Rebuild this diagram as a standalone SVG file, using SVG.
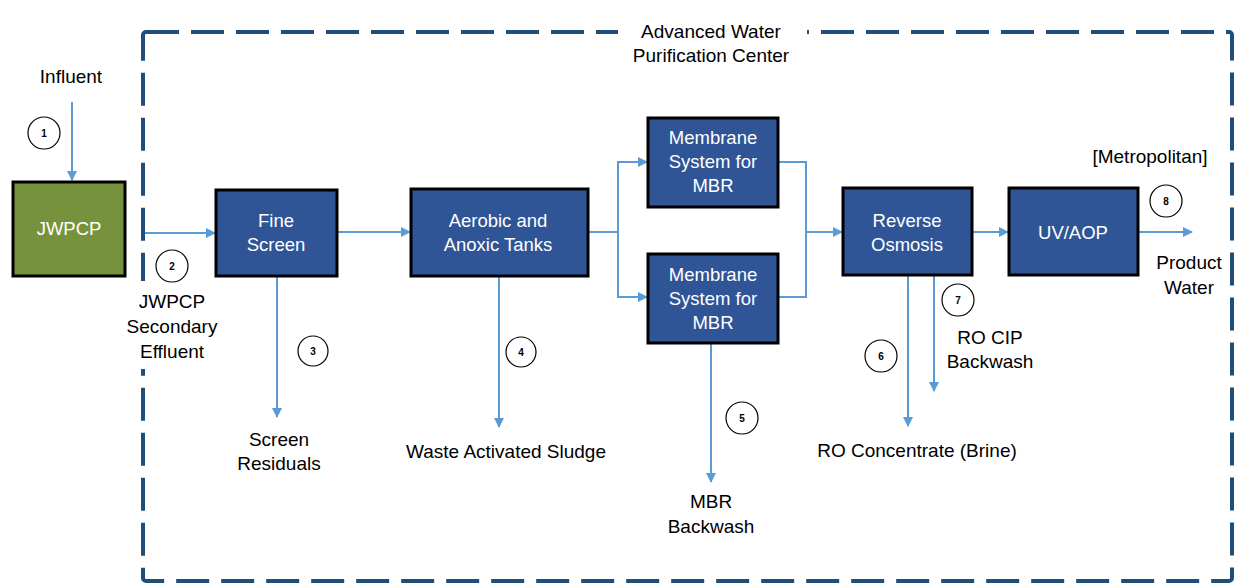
<svg xmlns="http://www.w3.org/2000/svg" width="1237" height="584" viewBox="0 0 1237 584">
<style>
.box{fill:#2F5597;stroke:#000;stroke-width:3}
.bt{fill:#fff;font-family:"Liberation Sans",Arial,sans-serif;font-size:18.5px;text-anchor:middle}
.lb{fill:#000;font-family:"Liberation Sans",Arial,sans-serif;font-size:19px;text-anchor:middle}
.cn{fill:#000;font-family:"Liberation Sans",Arial,sans-serif;font-size:10px;font-weight:bold;text-anchor:middle}
.cc{fill:#fff;stroke:#000;stroke-width:1.2}
.ln{fill:none;stroke:#5B9BD5;stroke-width:2}
.ar{fill:none;stroke:#5B9BD5;stroke-width:2;marker-end:url(#ah)}
</style>
<defs>
<marker id="ah" viewBox="0 0 10 10" refX="9" refY="5" markerWidth="5" markerHeight="5" orient="auto" markerUnits="strokeWidth">
<path d="M0,0 L10,5 L0,10 z" fill="#5B9BD5"/>
</marker>
</defs>
<rect width="1237" height="584" fill="#fff"/>
<g id="boundary">
<rect x="143" y="32" width="1089" height="549" rx="3" fill="none" stroke="#1F4E79" stroke-width="4" stroke-dasharray="33 12"/>
<rect x="618" y="22" width="189" height="20" fill="#fff"/>
<rect x="135" y="281" width="16" height="88" fill="#fff"/>
<text class="lb" x="711" y="38">Advanced Water</text>
<text class="lb" x="711" y="62">Purification Center</text>
</g>
<g id="connectors">
<line class="ar" x1="72" y1="102" x2="72" y2="180"/>
<line class="ar" x1="145" y1="233" x2="215" y2="233"/>
<line class="ar" x1="337" y1="232" x2="410" y2="232"/>
<polyline class="ln" points="588,232 618,232"/>
<polyline class="ar" points="618,232 618,162 647,162"/>
<polyline class="ar" points="618,232 618,297 647,297"/>
<polyline class="ln" points="778,162 806,162 806,297 778,297"/>
<line class="ar" x1="806" y1="232" x2="842" y2="232"/>
<line class="ar" x1="972" y1="232" x2="1008" y2="232"/>
<line class="ar" x1="1138" y1="232" x2="1192" y2="232"/>
<line class="ar" x1="277" y1="276" x2="277" y2="417"/>
<line class="ar" x1="499" y1="276" x2="499" y2="427"/>
<line class="ar" x1="711" y1="343" x2="711" y2="482"/>
<line class="ar" x1="908" y1="275" x2="908" y2="426"/>
<line class="ar" x1="934" y1="275" x2="934" y2="391"/>
</g>
<g id="jwpcp">
<rect x="13" y="182" width="112" height="94" fill="#76923C" stroke="#000" stroke-width="3"/>
<text class="bt" x="69" y="235">JWPCP</text>
</g>
<g id="fine-screen">
<rect class="box" x="216" y="190" width="121" height="86"/>
<text class="bt" x="276" y="227">Fine</text>
<text class="bt" x="276" y="251">Screen</text>
</g>
<g id="aerobic">
<rect class="box" x="411" y="189" width="177" height="87"/>
<text class="bt" x="498" y="227">Aerobic and</text>
<text class="bt" x="498" y="251">Anoxic Tanks</text>
</g>
<g id="mbr-top">
<rect class="box" x="648" y="118" width="130" height="89"/>
<text class="bt" x="713" y="144">Membrane</text>
<text class="bt" x="713" y="168">System for</text>
<text class="bt" x="713" y="192">MBR</text>
</g>
<g id="mbr-bottom">
<rect class="box" x="648" y="254" width="130" height="89"/>
<text class="bt" x="713" y="281">Membrane</text>
<text class="bt" x="713" y="305">System for</text>
<text class="bt" x="713" y="329">MBR</text>
</g>
<g id="ro">
<rect class="box" x="843" y="188" width="129" height="87"/>
<text class="bt" x="907" y="227">Reverse</text>
<text class="bt" x="907" y="251">Osmosis</text>
</g>
<g id="uvaop">
<rect class="box" x="1009" y="188" width="129" height="87"/>
<text class="bt" x="1073" y="239">UV/AOP</text>
</g>
<g id="labels">
<text class="lb" x="71" y="83">Influent</text>
<text class="lb" x="172" y="308">JWPCP</text>
<text class="lb" x="172" y="333">Secondary</text>
<text class="lb" x="172" y="358">Effluent</text>
<text class="lb" x="279" y="446">Screen</text>
<text class="lb" x="279" y="470">Residuals</text>
<text class="lb" x="506" y="458">Waste Activated Sludge</text>
<text class="lb" x="711" y="508">MBR</text>
<text class="lb" x="711" y="533">Backwash</text>
<text class="lb" x="917" y="457">RO Concentrate (Brine)</text>
<text class="lb" x="990" y="344">RO CIP</text>
<text class="lb" x="990" y="368">Backwash</text>
<text class="lb" x="1150" y="163">[Metropolitan]</text>
<text class="lb" x="1189" y="269">Product</text>
<text class="lb" x="1189" y="294">Water</text>
</g>
<g id="markers">
<circle class="cc" cx="44" cy="133" r="16"/><text class="cn" x="44" y="137">1</text>
<circle class="cc" cx="172" cy="266" r="16"/><text class="cn" x="172" y="270">2</text>
<circle class="cc" cx="313" cy="351" r="15"/><text class="cn" x="313" y="355">3</text>
<circle class="cc" cx="521" cy="352" r="15"/><text class="cn" x="521" y="356">4</text>
<circle class="cc" cx="742" cy="418" r="16"/><text class="cn" x="742" y="422">5</text>
<circle class="cc" cx="881" cy="356" r="16"/><text class="cn" x="881" y="360">6</text>
<circle class="cc" cx="958" cy="300" r="16"/><text class="cn" x="958" y="304">7</text>
<circle class="cc" cx="1166" cy="201" r="16"/><text class="cn" x="1166" y="205">8</text>
</g>
</svg>
